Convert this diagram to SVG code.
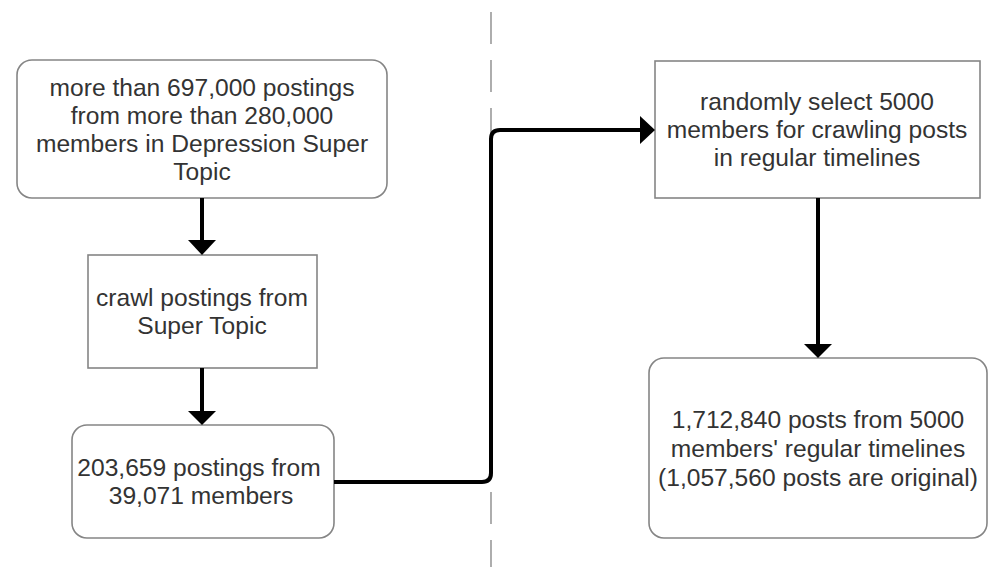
<svg xmlns="http://www.w3.org/2000/svg" width="988" height="567" viewBox="0 0 988 567">
<style>
.box{fill:#ffffff;stroke:#858585;stroke-width:1.6}
.t{font-family:"Liberation Sans",Arial,sans-serif;font-size:24.6px;fill:#333333;text-anchor:middle}
.ln{fill:none;stroke:#000000;stroke-width:4}
.hd{fill:#000000}
.sep{stroke:#9a9a9a;stroke-width:1.6;stroke-dasharray:32 16;fill:none}
</style>
<rect width="988" height="567" fill="#ffffff"/>
<line id="separator" class="sep" x1="491" y1="12" x2="491" y2="567"/>
<g id="n1">
<rect class="box" x="17" y="60" width="370" height="138" rx="15"/>
<text class="t" x="202" y="96">more than 697,000 postings</text>
<text class="t" x="202" y="124">from more than 280,000</text>
<text class="t" x="202" y="152">members in Depression Super</text>
<text class="t" x="202" y="180">Topic</text>
</g>
<g id="n2">
<rect class="box" x="88" y="255" width="229" height="113"/>
<text class="t" x="202" y="306">crawl postings from</text>
<text class="t" x="202" y="334">Super Topic</text>
</g>
<g id="n3">
<rect class="box" x="72" y="425" width="262" height="113" rx="15"/>
<text class="t" x="199" y="476">203,659 postings from</text>
<text class="t" x="201" y="504">39,071 members</text>
</g>
<g id="n4">
<rect class="box" x="655" y="61" width="325" height="137"/>
<text class="t" x="817" y="110">randomly select 5000</text>
<text class="t" x="817" y="138">members for crawling posts</text>
<text class="t" x="817" y="166">in regular timelines</text>
</g>
<g id="n5">
<rect class="box" x="649" y="358" width="338" height="180" rx="15"/>
<text class="t" x="818" y="428">1,712,840 posts from 5000</text>
<text class="t" x="818" y="457">members' regular timelines</text>
<text class="t" x="818" y="486">(1,057,560 posts are original)</text>
</g>
<g id="connectors">
<line class="ln" x1="202" y1="198" x2="202" y2="242"/>
<polygon class="hd" points="188,240 216,240 202,255"/>
<line class="ln" x1="202" y1="368" x2="202" y2="413"/>
<polygon class="hd" points="188,411 216,411 202,425"/>
<path class="ln" d="M334,482 H482 Q491,482 491,473 V139 Q491,130 500,130 H642"/>
<polygon class="hd" points="640,116 640,144 655,130"/>
<line class="ln" x1="818" y1="198" x2="818" y2="346"/>
<polygon class="hd" points="804,344 832,344 818,358"/>
</g>
</svg>
